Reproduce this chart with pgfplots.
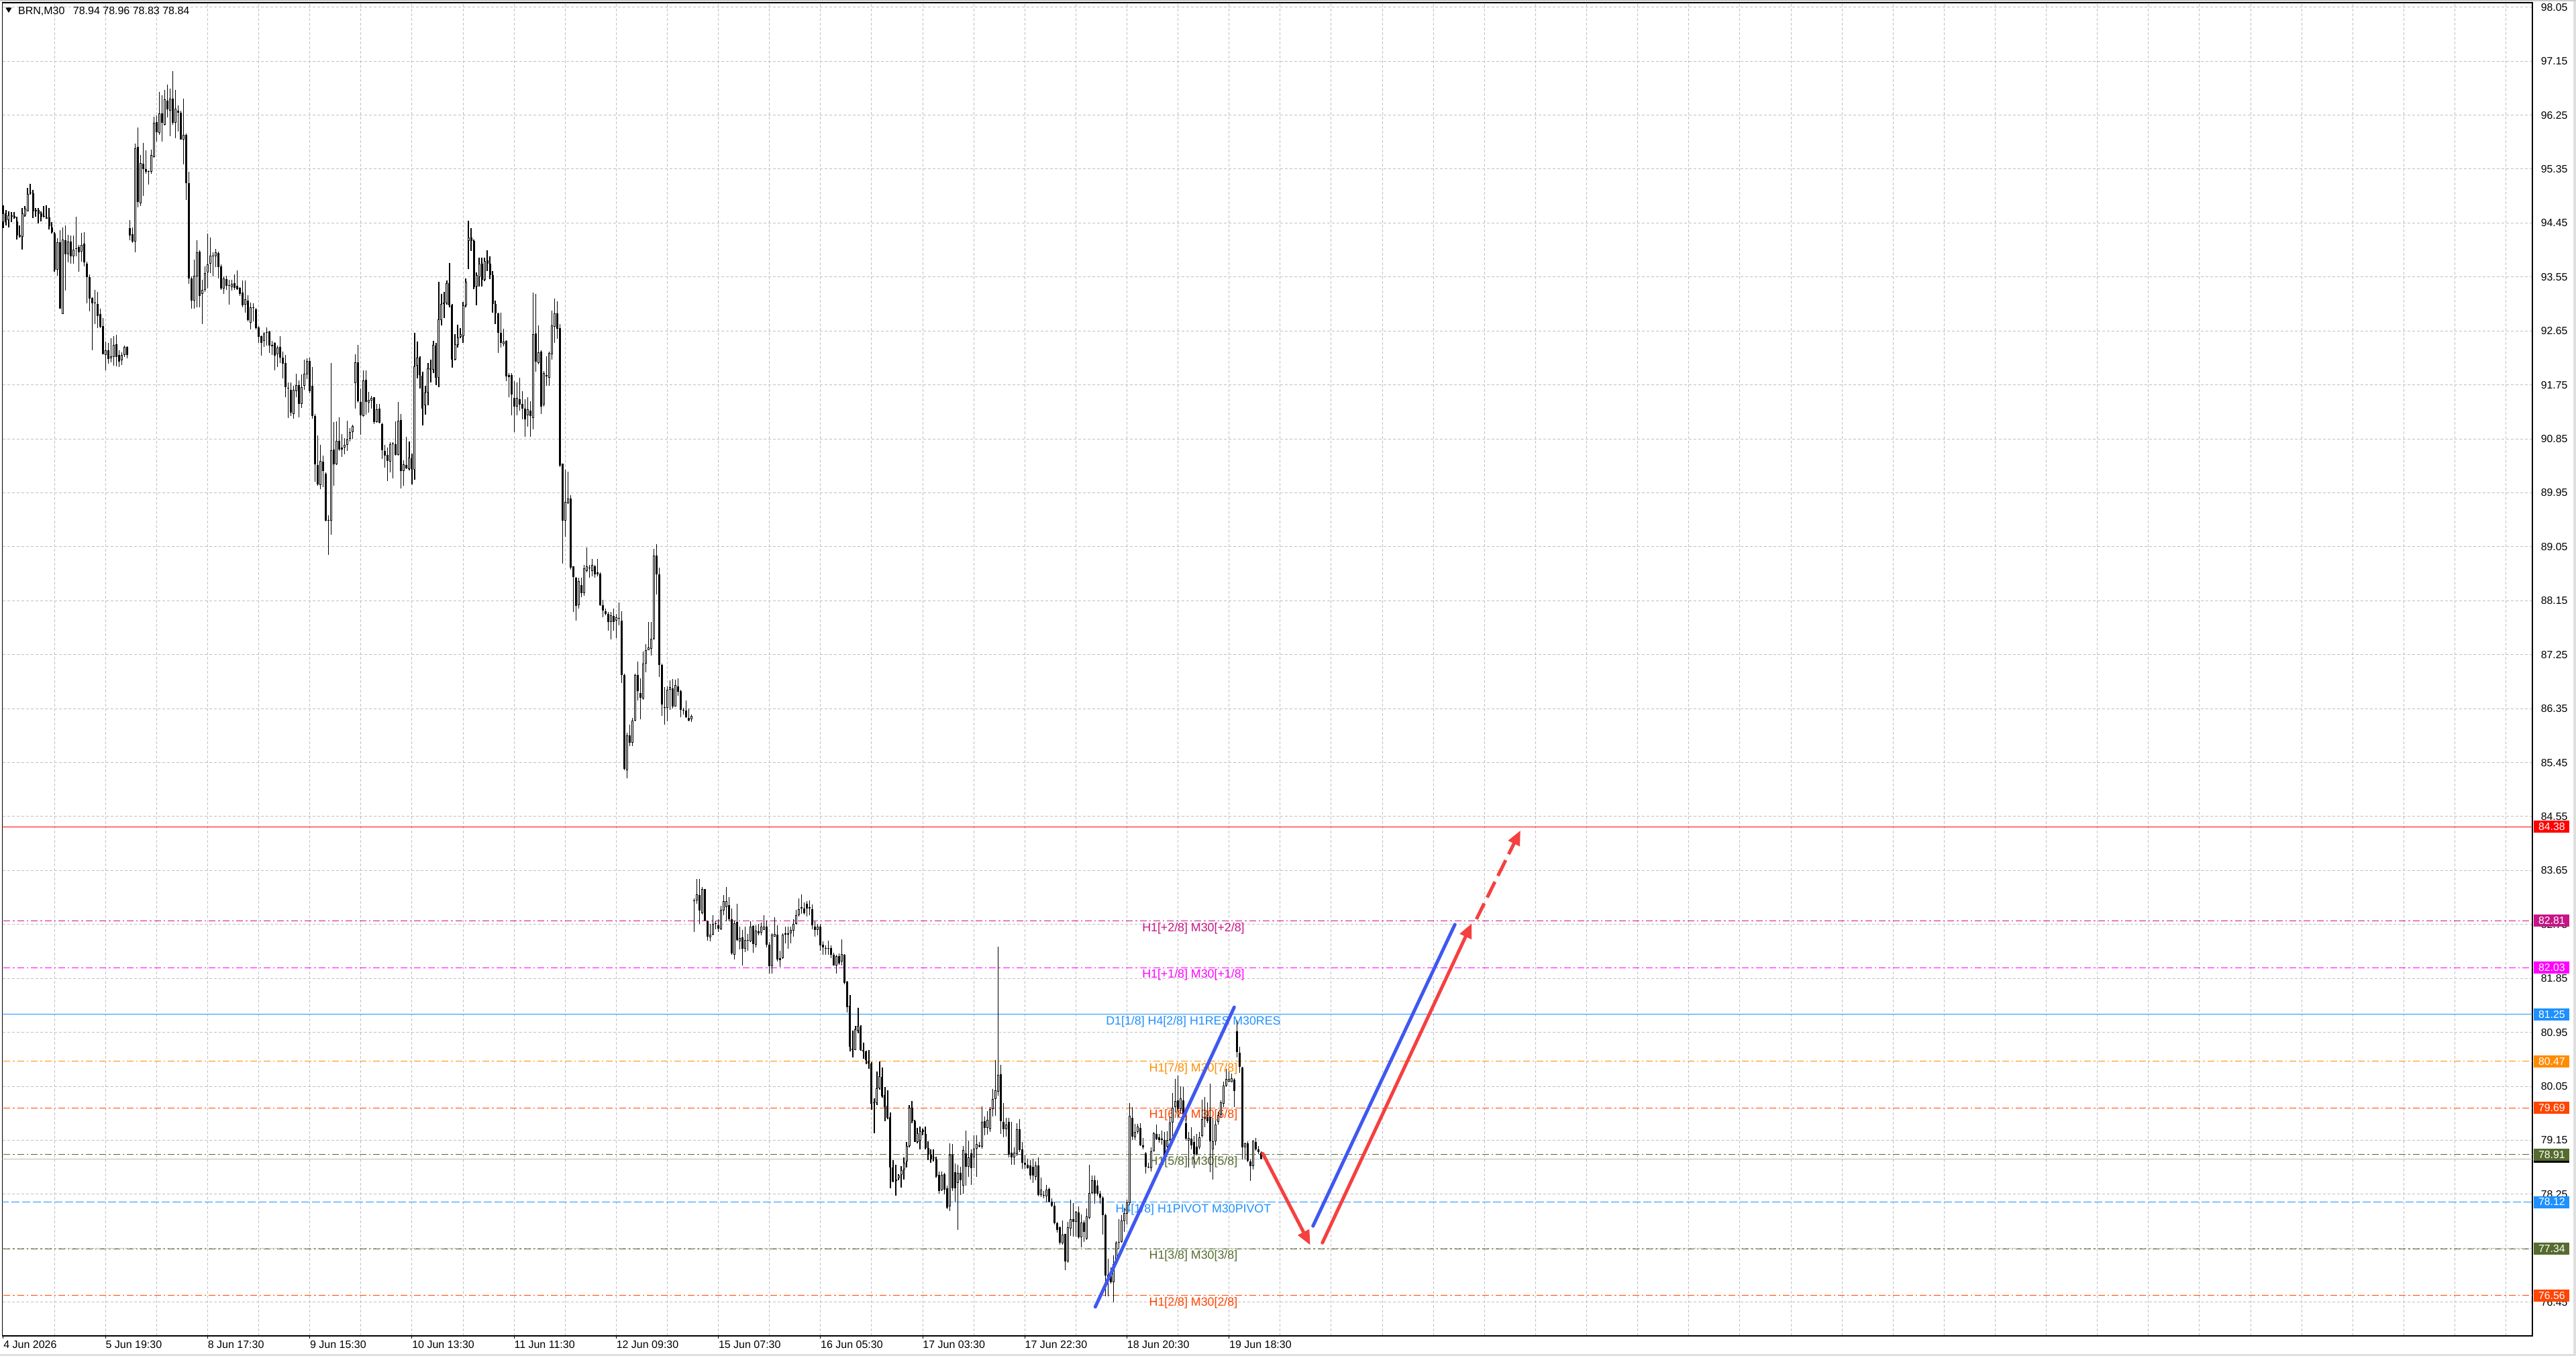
\documentclass[border=0pt]{standalone}
\usepackage{fontspec}
\setmainfont{Liberation Sans}
\usepackage{pgfplots}
\pgfplotsset{compat=1.18}
\usepackage{pgfplotstable}
\usetikzlibrary{arrows.meta}

\definecolor{mvr}{HTML}{C71585}
\definecolor{mag}{HTML}{FF00FF}
\definecolor{dblue}{HTML}{1E90FF}
\definecolor{dorange}{HTML}{FF8C00}
\definecolor{ored}{HTML}{FF4500}
\definecolor{olive}{HTML}{556B2F}
\definecolor{gridgray}{HTML}{C0C0C0}
\definecolor{arrred}{RGB}{245,64,64}
\definecolor{arrblue}{RGB}{64,88,240}

\tikzset{
  lvl/.style={anchor=north, inner sep=0pt, yshift=-1.2pt, font=\fontsize{8.9}{10}\selectfont},
  pbox/.style={anchor=west, xshift=1pt, inner sep=0pt, minimum width=26.5pt, minimum height=9pt,
    text=white, font=\fontsize{7.9}{9}\selectfont},
}

% BRN M30 bars: index, open, high, low, close
\pgfplotstableread{
i o h l c
0 94.47 94.75 94.36 94.61
1 94.61 94.67 94.41 94.47
2 94.50 94.64 94.38 94.58
3 94.55 94.63 94.47 94.58
4 94.57 94.63 94.52 94.53
5 94.48 94.55 94.18 94.24
6 94.25 94.41 94.21 94.22
7 94.22 94.70 94.01 94.61
8 94.58 94.73 94.55 94.69
9 94.65 95.04 94.64 94.94
10 94.95 95.10 94.93 94.96
11 94.95 95.00 94.53 94.65
12 94.64 94.70 94.55 94.67
13 94.67 94.70 94.44 94.60
14 94.61 94.64 94.48 94.55
15 94.55 94.73 94.54 94.55
16 94.52 94.75 94.52 94.54
17 94.54 94.70 94.34 94.40
18 94.38 94.47 94.27 94.30
19 94.27 94.30 93.64 93.67
20 93.67 94.20 93.57 94.13
21 94.13 94.33 93.02 93.02
22 92.93 94.38 92.93 94.18
23 94.16 94.41 93.32 93.93
24 93.93 94.25 93.79 94.14
25 94.14 94.24 93.77 93.90
26 93.90 94.24 93.77 94.01
27 94.03 94.55 93.90 94.02
28 94.05 94.08 93.64 93.96
29 93.97 94.29 93.81 94.08
30 94.11 94.30 93.73 93.79
31 93.77 93.81 93.11 93.55
32 93.55 93.59 92.98 93.19
33 93.20 93.21 92.33 93.11
34 93.11 93.33 92.77 93.11
35 93.10 93.30 92.70 92.90
36 92.93 93.02 92.70 92.72
37 92.73 92.87 92.26 92.26
38 92.25 92.47 91.99 92.33
39 92.33 92.45 92.10 92.18
40 92.19 92.53 92.13 92.23
41 92.22 92.56 92.07 92.42
42 92.43 92.58 92.06 92.22
43 92.25 92.33 92.05 92.14
44 92.16 92.30 92.08 92.25
45 92.25 92.41 92.22 92.38
46 92.38 92.39 92.19 92.25
47 94.37 94.50 94.16 94.24
48 94.26 94.38 94.12 94.14
49 94.14 95.77 93.96 95.70
50 95.72 96.04 94.71 94.80
51 94.78 95.58 94.73 95.45
52 95.44 95.79 94.90 95.35
53 95.35 95.66 95.27 95.31
54 95.30 95.33 95.09 95.30
55 95.30 95.68 95.27 95.59
56 95.55 96.22 95.54 96.12
57 96.13 96.24 95.81 95.96
58 95.95 96.64 95.92 96.28
59 96.28 96.58 95.81 96.12
60 96.09 96.67 96.08 96.51
61 96.49 96.76 96.21 96.35
62 96.32 96.69 95.90 96.53
63 96.53 96.98 96.09 96.12
64 96.12 96.67 95.87 96.36
65 96.32 96.41 95.98 96.29
66 96.29 96.32 95.84 95.84
67 95.84 96.53 95.43 95.92
68 95.92 95.94 94.84 95.11
69 95.11 95.30 93.44 93.53
70 93.53 93.56 93.02 93.16
71 93.16 93.84 93.02 93.57
72 93.56 94.16 93.04 93.96
73 93.97 94.00 93.04 93.24
74 93.27 93.50 92.76 93.34
75 93.33 93.73 93.30 93.61
76 93.63 94.27 93.36 93.76
77 93.77 94.21 93.61 93.91
78 93.90 93.96 93.56 93.90
79 93.90 94.02 93.72 93.96
80 93.95 93.97 93.53 93.72
81 93.73 93.76 93.33 93.36
82 93.36 93.56 93.27 93.53
83 93.51 93.57 93.33 93.40
84 93.40 93.50 93.09 93.40
85 93.38 93.50 93.32 93.44
86 93.45 93.59 93.33 93.37
87 93.40 93.66 93.34 93.35
88 93.37 93.38 93.24 93.27
89 93.29 93.49 93.05 93.08
90 93.09 93.49 92.96 93.18
91 93.16 93.25 92.81 92.83
92 92.79 93.12 92.67 93.05
93 93.05 93.11 92.81 93.03
94 93.01 93.03 92.67 92.70
95 92.71 92.73 92.45 92.55
96 92.56 92.57 92.24 92.45
97 92.49 92.63 92.38 92.61
98 92.63 92.71 92.41 92.62
99 92.64 92.65 92.28 92.41
100 92.40 92.49 92.25 92.42
101 92.45 92.46 91.99 92.24
102 92.26 92.41 92.05 92.37
103 92.38 92.56 92.11 92.21
104 92.21 92.31 91.86 92.10
105 92.12 92.25 91.54 91.71
106 91.69 91.79 91.20 91.69
107 91.67 91.79 91.23 91.29
108 91.27 91.73 91.19 91.67
109 91.65 91.94 91.55 91.75
110 91.75 91.83 91.21 91.43
111 91.43 91.93 91.37 91.71
112 91.73 92.17 91.67 91.94
113 91.93 92.19 91.85 92.15
114 92.15 92.20 91.61 91.65
115 91.74 92.05 91.19 91.23
116 91.23 91.26 90.13 90.42
117 90.41 90.91 90.07 90.09
118 90.08 90.75 90.01 90.48
119 90.47 90.57 90.05 90.31
120 90.27 90.29 89.47 89.49
121 89.48 89.57 88.91 89.48
122 89.48 92.12 89.25 90.66
123 90.67 91.13 90.07 90.42
124 90.43 91.14 90.41 90.82
125 90.82 91.21 90.65 90.67
126 90.67 90.93 90.55 90.70
127 90.70 90.86 90.59 90.75
128 90.75 91.15 90.65 90.84
129 90.85 91.03 90.81 90.96
130 90.96 91.09 90.85 91.06
131 91.78 92.26 91.35 92.13
132 92.13 92.42 91.46 91.48
133 91.47 91.69 90.92 91.24
134 91.23 91.99 91.22 91.82
135 91.84 91.99 91.25 91.47
136 91.46 91.63 91.29 91.50
137 91.49 91.57 91.36 91.53
138 91.55 91.55 91.10 91.13
139 91.13 91.43 91.12 91.34
140 91.35 91.43 91.11 91.12
141 91.10 91.12 90.51 90.66
142 90.65 90.75 90.37 90.57
143 90.58 90.71 90.15 90.48
144 90.47 90.79 90.29 90.76
145 90.76 90.79 90.19 90.76
146 90.76 91.14 90.57 90.58
147 90.58 91.47 90.57 91.15
148 91.16 91.26 90.02 90.31
149 90.31 90.49 90.07 90.42
150 90.41 90.88 90.35 90.36
151 90.35 90.81 90.33 90.54
152 90.53 90.61 90.09 90.35
153 90.34 92.62 90.17 92.06
154 92.07 92.47 91.86 92.20
155 92.21 92.23 91.69 91.91
156 91.90 91.97 91.07 91.36
157 91.41 91.73 91.25 91.62
158 91.62 92.12 91.41 92.03
159 92.03 92.17 91.79 92.00
160 92.00 92.48 91.95 92.42
161 92.41 92.45 91.75 91.87
162 91.87 93.47 91.71 92.84
163 92.83 93.27 92.74 93.10
164 93.10 93.30 92.87 93.12
165 93.11 93.49 93.09 93.45
166 93.45 93.78 93.05 93.08
167 93.08 93.10 92.04 92.17
168 92.17 92.60 92.16 92.43
169 92.42 92.75 92.37 92.54
170 92.55 92.70 92.53 92.60
171 92.56 93.13 92.45 93.08
172 93.08 93.53 93.05 93.47
173 94.15 94.49 93.68 94.21
174 94.21 94.36 93.99 94.15
175 94.15 94.18 93.35 93.38
176 93.39 93.63 93.08 93.58
177 93.55 93.87 93.39 93.77
178 93.77 93.87 93.39 93.50
179 93.50 93.87 93.48 93.82
180 93.83 94.00 93.65 93.77
181 93.77 93.90 93.52 93.58
182 93.58 93.65 92.96 93.10
183 93.10 93.16 92.77 92.94
184 92.94 92.96 92.28 92.62
185 92.62 92.96 92.37 92.45
186 92.43 92.69 92.39 92.47
187 92.48 92.50 91.81 91.89
188 91.88 91.95 91.54 91.91
189 91.91 91.95 91.24 91.59
190 91.53 91.81 90.96 91.39
191 91.39 91.79 91.24 91.53
192 91.51 91.87 91.32 91.42
193 91.43 91.64 91.17 91.35
194 91.35 91.51 90.88 91.18
195 91.24 91.54 91.05 91.34
196 91.32 91.48 90.88 91.23
197 91.20 93.29 91.01 92.60
198 92.61 93.27 91.97 92.14
199 92.12 92.74 92.09 92.30
200 92.31 92.33 91.26 91.39
201 91.42 91.98 91.39 91.95
202 91.89 92.23 91.74 91.91
203 91.87 92.31 91.74 92.28
204 92.26 92.99 92.17 92.74
205 92.72 93.19 92.45 92.94
206 92.94 93.14 92.52 92.69
207 92.70 92.77 90.38 90.40
208 90.44 90.44 88.77 89.48
209 89.48 90.34 89.22 89.80
210 89.78 90.30 89.77 89.86
211 89.86 89.91 88.67 88.70
212 88.72 88.73 87.96 88.54
213 88.53 88.54 87.82 88.06
214 88.07 88.53 88.02 88.48
215 88.41 88.53 88.21 88.28
216 88.28 88.75 88.23 88.69
217 88.65 89.04 88.62 88.72
218 88.69 88.75 88.53 88.69
219 88.65 88.85 88.56 88.75
220 88.72 88.75 88.53 88.59
221 88.59 88.85 88.56 88.62
222 88.60 88.62 88.06 88.07
223 88.07 88.16 87.87 87.99
224 87.97 88.02 87.91 87.93
225 87.93 87.96 87.65 87.79
226 87.79 87.96 87.51 87.91
227 87.90 88.02 87.65 87.79
228 87.82 87.93 87.53 87.87
229 87.85 88.12 87.74 87.85
230 87.82 87.97 86.78 86.91
231 86.91 86.93 85.32 85.34
232 85.32 85.95 85.19 85.90
233 85.90 86.08 85.73 85.78
234 85.78 86.19 85.73 86.15
235 86.15 86.93 86.14 86.91
236 86.91 87.13 86.49 86.64
237 86.61 86.86 86.17 86.53
238 86.52 87.30 86.50 87.10
239 87.10 87.43 86.96 87.33
240 87.33 87.79 87.32 87.37
241 87.35 87.79 87.24 87.52
242 87.52 89.02 87.49 88.90
243 88.90 89.09 88.25 88.59
244 88.59 88.70 86.88 87.08
245 87.08 87.10 86.23 86.42
246 86.36 86.71 86.08 86.36
247 86.36 86.72 86.14 86.67
248 86.66 86.82 86.33 86.71
249 86.69 86.84 86.35 86.39
250 86.39 86.83 86.38 86.74
251 86.72 86.86 86.57 86.63
252 86.64 86.66 86.21 86.33
253 86.32 86.36 86.25 86.32
254 86.32 86.49 86.19 86.21
255 86.20 86.35 86.14 86.15
256 86.17 86.25 86.13 86.23
257 83.14 83.19 82.63 83.14
258 83.15 83.51 83.10 83.25
259 83.24 83.51 82.76 82.98
260 82.94 83.38 82.92 83.34
261 83.34 83.34 82.80 82.81
262 82.80 82.82 82.48 82.55
263 82.54 82.76 82.47 82.58
264 82.58 82.90 82.57 82.76
265 82.76 82.80 82.67 82.76
266 82.74 82.84 82.63 82.68
267 82.67 83.06 82.66 82.99
268 82.98 83.24 82.91 83.14
269 83.04 83.37 82.80 83.14
270 83.07 83.21 82.80 82.84
271 82.84 83.02 82.25 82.27
272 82.25 82.82 82.17 82.77
273 82.79 83.09 82.47 82.49
274 82.47 82.72 82.33 82.52
275 82.53 82.66 82.07 82.34
276 82.34 82.72 82.29 82.49
277 82.48 82.59 82.31 82.49
278 82.47 82.80 82.46 82.72
279 82.73 82.74 82.28 82.42
280 82.41 82.74 82.37 82.65
281 82.64 82.76 82.57 82.60
282 82.61 82.78 82.57 82.71
283 82.66 82.91 82.66 82.71
284 82.72 82.81 82.37 82.41
285 82.41 82.46 81.93 82.05
286 82.05 82.60 81.93 82.58
287 82.55 82.87 82.55 82.59
288 82.58 82.74 82.13 82.17
289 82.16 82.31 82.04 82.19
290 82.19 82.60 82.18 82.58
291 82.58 82.71 82.43 82.60
292 82.58 82.72 82.35 82.60
293 82.60 82.71 82.44 82.66
294 82.65 82.84 82.55 82.76
295 82.76 82.99 82.75 82.90
296 82.90 83.19 82.88 83.01
297 83.02 83.25 82.93 83.04
298 83.02 83.12 82.92 82.94
299 83.10 83.14 82.88 83.02
300 83.02 83.15 82.91 83.04
301 83.01 83.08 82.67 82.74
302 82.72 82.80 82.55 82.66
303 82.66 82.76 82.57 82.71
304 82.72 82.76 82.31 82.40
305 82.41 82.47 82.25 82.37
306 82.35 82.40 82.25 82.35
307 82.35 82.48 82.25 82.35
308 82.36 82.40 82.19 82.25
309 82.24 82.28 82.07 82.07
310 82.07 82.25 81.93 82.22
311 82.22 82.27 82.08 82.10
312 82.13 82.50 82.07 82.26
313 82.25 82.26 81.75 81.78
314 81.80 81.81 81.28 81.37
315 81.39 81.57 80.63 80.71
316 80.68 80.98 80.53 80.65
317 80.66 81.06 80.65 81.00
318 80.98 81.36 80.94 81.06
319 81.05 81.07 80.64 80.65
320 80.65 80.78 80.51 80.63
321 80.63 80.64 80.42 80.49
322 80.47 80.65 80.34 80.43
323 80.43 80.45 79.66 79.76
324 79.77 79.85 79.27 79.77
325 79.77 80.30 79.74 80.02
326 80.02 80.47 80.00 80.22
327 80.21 80.36 79.86 79.88
328 79.90 80.04 79.47 79.70
329 79.73 79.98 79.50 79.52
330 79.54 79.62 78.35 78.70
331 78.70 78.82 78.45 78.46
332 78.47 78.74 78.23 78.50
333 78.52 78.59 78.48 78.56
334 78.57 78.72 78.36 78.65
335 78.66 78.86 78.49 78.77
336 78.80 79.12 78.70 79.05
337 79.05 79.74 79.03 79.69
338 79.69 79.80 79.43 79.47
339 79.47 79.49 79.12 79.12
340 79.12 79.36 79.10 79.27
341 79.14 79.38 79.00 79.30
342 79.29 79.35 79.23 79.32
343 79.26 79.38 79.00 79.02
344 79.02 79.13 78.82 78.91
345 78.91 79.00 78.78 78.83
346 78.85 79.00 78.80 78.87
347 78.83 78.88 78.53 78.55
348 78.57 78.63 78.26 78.31
349 78.32 78.63 78.31 78.57
350 78.58 78.61 78.25 78.33
351 78.35 78.39 78.00 78.02
352 78.05 79.10 77.97 78.91
353 78.91 79.09 78.31 78.35
354 78.62 78.76 78.11 78.35
355 78.44 78.74 77.66 78.61
356 78.61 78.71 78.24 78.48
357 78.39 79.06 78.26 78.99
358 78.93 79.31 78.39 78.71
359 78.71 79.14 78.54 78.86
360 78.93 79.00 78.41 78.69
361 78.86 79.23 78.69 79.01
362 79.01 79.23 78.54 79.09
363 79.07 79.12 79.03 79.04
364 79.04 79.72 79.01 79.46
365 79.47 79.55 79.23 79.36
366 79.36 79.64 79.25 79.49
367 79.34 79.70 79.29 79.67
368 79.67 80.01 79.55 79.84
369 79.84 80.49 79.56 79.98
370 79.96 82.38 79.89 80.24
371 80.25 80.41 79.26 79.47
372 79.46 79.77 79.20 79.34
373 79.34 79.52 79.21 79.41
374 79.46 79.53 78.86 78.91
375 78.94 79.46 78.74 78.86
376 78.86 79.03 78.74 78.94
377 78.92 79.43 78.89 79.34
378 79.34 79.50 78.95 78.99
379 79.00 79.12 78.67 78.78
380 78.78 78.91 78.67 78.74
381 78.74 78.84 78.67 78.69
382 78.73 78.82 78.50 78.56
383 78.71 78.84 78.44 78.56
384 78.54 78.80 78.48 78.73
385 78.73 78.87 78.22 78.24
386 78.24 78.53 78.20 78.33
387 78.23 78.31 78.18 78.23
388 78.22 78.41 78.11 78.33
389 78.34 78.36 78.11 78.13
390 78.13 78.18 78.04 78.06
391 78.06 78.11 77.75 77.77
392 77.77 77.79 77.61 77.66
393 77.70 77.71 77.41 77.44
394 77.43 77.81 77.41 77.58
395 77.59 77.59 76.98 77.13
396 77.13 77.79 77.11 77.70
397 77.68 78.16 77.56 77.83
398 77.83 78.10 77.54 77.79
399 77.79 77.97 77.54 77.96
400 77.95 78.05 77.51 77.53
401 77.53 77.91 77.36 77.78
402 77.78 77.81 77.45 77.62
403 77.51 78.01 77.49 77.88
404 77.86 78.74 77.83 78.27
405 78.27 78.56 78.25 78.48
406 78.48 78.56 78.09 78.26
407 78.40 78.48 78.23 78.26
408 78.26 78.31 78.09 78.19
409 78.19 78.22 77.58 77.90
410 77.90 77.92 76.55 76.89
411 76.87 77.17 76.55 76.91
412 76.90 77.03 76.76 76.78
413 76.78 77.23 76.45 77.08
414 77.08 77.47 77.06 77.44
415 77.44 77.83 77.34 77.46
416 77.45 77.90 77.44 77.81
417 77.80 78.03 77.62 77.94
418 77.93 78.16 77.75 78.11
419 78.10 79.77 78.07 79.56
420 79.53 79.70 79.16 79.21
421 79.20 79.42 79.16 79.29
422 79.29 79.42 79.26 79.38
423 79.36 79.43 79.06 79.07
424 79.07 79.19 79.00 79.03
425 78.93 78.95 78.60 78.71
426 78.70 78.78 78.68 78.70
427 78.69 79.03 78.63 78.97
428 78.97 79.29 78.96 79.27
429 79.26 79.41 79.16 79.17
430 79.20 79.26 79.11 79.16
431 79.18 79.31 79.08 79.16
432 79.16 79.29 78.84 78.86
433 79.04 79.30 79.00 79.16
434 79.16 79.55 79.13 79.45
435 79.45 79.94 79.19 79.69
436 79.70 80.17 79.62 79.80
437 79.82 80.23 79.52 79.67
438 79.67 80.05 79.60 79.85
439 79.82 80.04 79.55 79.59
440 79.44 79.57 79.14 79.18
441 79.14 79.29 78.70 79.19
442 79.18 79.37 79.00 79.07
443 79.12 79.22 78.68 78.92
444 79.04 79.26 78.90 78.92
445 79.03 79.29 79.00 79.20
446 79.22 79.83 79.20 79.50
447 79.50 79.87 79.37 79.54
448 79.54 79.78 79.44 79.47
449 79.54 80.10 78.62 79.13
450 79.00 79.52 78.49 79.13
451 79.13 79.48 79.07 79.41
452 79.46 79.63 79.41 79.57
453 79.57 79.82 79.52 79.78
454 79.76 80.13 79.70 80.06
455 80.06 80.34 80.04 80.17
456 80.13 80.30 80.12 80.17
457 80.12 80.26 80.12 80.18
458 80.16 80.19 79.70 79.97
459 80.97 81.15 80.53 80.62
460 80.61 80.71 80.28 80.38
461 80.36 80.38 78.83 79.03
462 79.03 79.11 78.83 79.10
463 79.10 79.13 78.79 78.81
464 78.80 78.83 78.47 78.72
465 78.72 79.14 78.66 79.14
466 79.12 79.19 78.98 79.00
467 79.00 79.05 78.92 78.95
468 78.94 78.96 78.83 78.84
}\candles

\begin{document}
\begin{tikzpicture}
\begin{axis}[
  scale only axis,
  width=1885.25pt, height=993.5pt,
  xmin=-0.37, xmax=940.8,
  ymin=75.888, ymax=98.126,
  axis line style={black, line width=0.7pt},
  xtick={0,38,...,456},
  xticklabels={4 Jun 2026,5 Jun 19:30,8 Jun 17:30,9 Jun 15:30,10 Jun 13:30,11 Jun 11:30,12 Jun 09:30,15 Jun 07:30,16 Jun 05:30,17 Jun 03:30,17 Jun 22:30,18 Jun 20:30,19 Jun 18:30},
  minor xtick={19,38,...,931},
  xtick pos=left,
  tick align=outside,
  major tick length=2pt,
  minor tick length=0pt,
  xtick style={black, line width=0.5pt},
  xticklabel style={anchor=north west, inner sep=0pt, yshift=-1.5pt, font=\fontsize{8}{9}\selectfont},
  ytick={76.45,77.35,78.25,79.15,80.05,80.95,81.85,82.75,83.65,84.55,85.45,86.35,87.25,88.15,89.05,89.95,90.85,91.75,92.65,93.55,94.45,95.35,96.25,97.15,98.05},
  yticklabel pos=right,
  ytick style={draw=none},
  yticklabel style={anchor=west, inner sep=0pt, xshift=4.3pt, font=\fontsize{7.9}{9}\selectfont,
    /pgf/number format/.cd, fixed, fixed zerofill, precision=2, assume math mode=true},
  xminorgrids=true, ymajorgrids=true,
  major grid style={gridgray, line width=0.5pt, dash pattern=on 2pt off 1.5pt},
  minor grid style={gridgray, line width=0.5pt, dash pattern=on 2pt off 1.5pt},
]

% level lines
\addplot[red, line width=0.5pt] coordinates {(-5,84.38) (950,84.38)};
\addplot[mvr, line width=0.5pt, dash pattern=on 5pt off 2pt on 1.2pt off 2pt] coordinates {(-5,82.81) (950,82.81)};
\addplot[mag, line width=0.5pt, dash pattern=on 5pt off 2pt on 1.2pt off 2pt] coordinates {(-5,82.03) (950,82.03)};
\addplot[dblue, line width=0.5pt] coordinates {(-5,81.25) (950,81.25)};
\addplot[dorange, line width=0.5pt, dash pattern=on 5pt off 2pt on 1.2pt off 2pt] coordinates {(-5,80.47) (950,80.47)};
\addplot[ored, line width=0.5pt, dash pattern=on 5pt off 2pt on 1.2pt off 2pt] coordinates {(-5,79.69) (950,79.69)};
\addplot[olive, line width=0.5pt, dash pattern=on 5pt off 2pt on 1.2pt off 2pt] coordinates {(-5,78.91) (950,78.91)};
\addplot[gray!55, line width=0.5pt] coordinates {(-5,78.84) (950,78.84)};
\addplot[dblue, line width=0.5pt, dash pattern=on 6pt off 2pt] coordinates {(-5,78.12) (950,78.12)};
\addplot[olive, line width=0.5pt, dash pattern=on 5pt off 2pt on 1.2pt off 2pt] coordinates {(-5,77.34) (950,77.34)};
\addplot[ored, line width=0.5pt, dash pattern=on 5pt off 2pt on 1.2pt off 2pt] coordinates {(-5,76.56) (950,76.56)};

% level captions
\node[lvl, text=mvr] at (axis cs:442.7,82.81) {H1[+2/8] M30[+2/8]};
\node[lvl, text=mag] at (axis cs:442.7,82.03) {H1[+1/8] M30[+1/8]};
\node[lvl, text=dblue] at (axis cs:442.7,81.25) {D1[1/8] H4[2/8] H1RES M30RES};
\node[lvl, text=dorange] at (axis cs:442.7,80.47) {H1[7/8] M30[7/8]};
\node[lvl, text=ored] at (axis cs:442.7,79.69) {H1[6/8] M30[6/8]};
\node[lvl, text=olive] at (axis cs:442.7,78.91) {H1[5/8] M30[5/8]};
\node[lvl, text=dblue] at (axis cs:442.7,78.12) {H4[1/8] H1PIVOT M30PIVOT};
\node[lvl, text=olive] at (axis cs:442.7,77.34) {H1[3/8] M30[3/8]};
\node[lvl, text=ored] at (axis cs:442.7,76.56) {H1[2/8] M30[2/8]};

% candles: wicks, bodies, hollow bull interiors
\addplot[draw=none, mark=none, forget plot,
  error bars/.cd, y dir=plus, y explicit, error mark=none,
  error bar style={draw=black, line width=0.6pt}]
  table[x=i, y=l, y error plus expr={\thisrow{h}-\thisrow{l}}] {\candles};
\addplot[draw=none, mark=none, forget plot,
  error bars/.cd, y dir=plus, y explicit, error mark=none,
  error bar style={draw=black, line width=1.5pt}]
  table[x=i, y expr={min(\thisrow{o},\thisrow{c})},
        y error plus expr={max(abs(\thisrow{c}-\thisrow{o}),0.0112)}] {\candles};
\addplot[draw=none, mark=none, forget plot,
  error bars/.cd, y dir=plus, y explicit, error mark=none,
  error bar style={draw=white, line width=0.5pt}]
  table[x=i, y expr={\thisrow{c}-\thisrow{o}>0.03 ? \thisrow{o}+0.0112 : 60},
        y error plus expr={\thisrow{c}-\thisrow{o}>0.03 ? \thisrow{c}-\thisrow{o}-0.0224 : 0}] {\candles};

% hand-drawn projection
\addplot[arrblue, line width=2.5pt, line cap=round] coordinates {(406.2,76.37) (457.9,81.37)};
\addplot[arrred, line width=2.5pt, line cap=round, -{Triangle[length=11pt,width=9pt]}] coordinates {(468.5,78.93) (486.2,77.40)};
\addplot[arrblue, line width=2.5pt, line cap=round] coordinates {(487.2,77.72) (540.0,82.75)};
\addplot[arrred, line width=2.5pt, line cap=round, -{Triangle[length=11pt,width=9pt]}] coordinates {(490.7,77.44) (546.3,82.77)};
\addplot[arrred, line width=2.5pt, dash pattern=on 13pt off 5pt, -{Triangle[length=11pt,width=9pt]}] coordinates {(548.0,82.84) (564.4,84.32)};

% anchors for the price boxes
\coordinate (p1) at (axis cs:940.8,84.38);
\coordinate (p2) at (axis cs:940.8,82.81);
\coordinate (p3) at (axis cs:940.8,82.03);
\coordinate (p4) at (axis cs:940.8,81.25);
\coordinate (p5) at (axis cs:940.8,80.47);
\coordinate (p6) at (axis cs:940.8,79.69);
\coordinate (p7) at (axis cs:940.8,78.91);
\coordinate (p7b) at (axis cs:940.8,78.875);
\coordinate (p8) at (axis cs:940.8,78.12);
\coordinate (p9) at (axis cs:940.8,77.34);
\coordinate (p10) at (axis cs:940.8,76.56);
\end{axis}

\node[pbox, fill=red] at (p1) {84.38};
\node[pbox, fill=mvr] at (p2) {82.81};
\node[pbox, fill=mag] at (p3) {82.03};
\node[pbox, fill=dblue] at (p4) {81.25};
\node[pbox, fill=dorange] at (p5) {80.47};
\node[pbox, fill=ored] at (p6) {79.69};
\node[pbox, fill=black] at (p7b) {};
\node[pbox, fill=olive] at (p7) {78.91};
\node[pbox, fill=dblue] at (p8) {78.12};
\node[pbox, fill=olive] at (p9) {77.34};
\node[pbox, fill=ored] at (p10) {76.56};

% header
\fill (2.45pt,989.75pt) -- (7pt,989.75pt) -- (4.72pt,986pt) -- cycle;
\node[anchor=west, inner sep=0pt, font=\fontsize{8}{9}\selectfont] at (11.6pt,987pt) {BRN,M30\hspace{0.5em} 78.94 78.96 78.83 78.84};

% window frame
\fill[gray!25] (-1.75pt,-15pt) rectangle (1917.75pt,-13.6pt);
\fill[gray!25] (1915.75pt,-15pt) rectangle (1917.75pt,995.5pt);
\fill[gray!40] (-1.75pt,994.6pt) rectangle (1917.75pt,995.5pt);

\pgfresetboundingbox
\path[use as bounding box] (-1.75pt,-15pt) rectangle (1917.75pt,995.5pt);
\end{tikzpicture}
\end{document}
